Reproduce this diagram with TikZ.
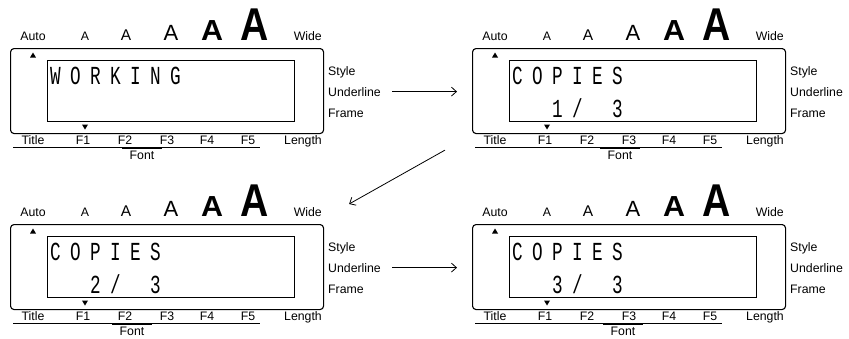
\documentclass[tikz,border=0pt]{standalone}
\usepackage{fontspec}
\setmainfont{Liberation Sans}
\newfontfamily\lcdfont[FakeStretch=0.68]{Liberation Mono}
\usetikzlibrary{arrows.meta}
\def\lcdloop#1{\ifx#1\relax\else\makebox[20pt][l]{#1}\expandafter\lcdloop\fi}
\tikzset{
  lab/.style={font=\fontsize{12.3}{13}\selectfont, inner sep=0pt},
  bigA/.style={inner sep=0pt, anchor=base},
  lcd/.style={font=\lcdfont\fontsize{26}{26}\selectfont, inner sep=0pt, anchor=base west},
  arr/.style={-{Straight Barb[length=5pt,width=9pt]}, line width=0.8pt},
  outerbox/.style={draw, line width=1.1pt, rounded corners=3.5pt, minimum width=313pt, minimum height=85pt, inner sep=0pt, anchor=north west},
  innerbox/.style={draw, line width=0.9pt, minimum width=247pt, minimum height=61pt, inner sep=0pt, anchor=north west},
}
\newcommand\lcdpanel[6]{%
\begin{scope}[shift={(#2,#3)}]
  \node[outerbox] (#1-o) at (0,0) {};
  \node[innerbox] (#1-i) at (37,12) {};
  \node[lab, anchor=base] (#1-auto) at (23,-8) {Auto};
  \node[bigA, font=\fontsize{12.3}{13}\selectfont] (#1-a1) at (75,-8) {A};
  \node[bigA, font=\fontsize{15.5}{16}\selectfont] (#1-a2) at (116,-8) {A};
  \node[bigA, font=\fontsize{22}{22}\selectfont] (#1-a3) at (161,-8) {A};
  \node[bigA, font=\bfseries\fontsize{29}{29}\selectfont] (#1-a4) at (202,-8) {\scalebox{1.05}[1]{A}};
  \node[bigA, font=\bfseries\fontsize{46}{46}\selectfont] (#1-a5) at (245,-8) {\scalebox{0.85}[1]{A}};
  \node[lab, anchor=base east] (#1-wide) at (312,-8) {Wide};
  \node[lab, anchor=base west] (#1-st) at (318,27) {Style};
  \node[lab, anchor=base west] (#1-ul) at (318,48) {Underline};
  \node[lab, anchor=base west] (#1-fr) at (318,69) {Frame};
  \node[lab, anchor=base] (#1-ti) at (23,96) {Title};
  \node[lab, anchor=base] (#1-f1) at (73,96) {F1};
  \node[lab, anchor=base] (#1-f2) at (115,96) {F2};
  \node[lab, anchor=base] (#1-f3) at (157,96) {F3};
  \node[lab, anchor=base] (#1-f4) at (197,96) {F4};
  \node[lab, anchor=base] (#1-f5) at (238,96) {F5};
  \node[lab, anchor=base east] (#1-len) at (312,96) {Length};
  \draw[line width=0.6pt] (3,99.5) -- (250,99.5);
  \draw[line width=1.8pt] (#6-20,100.3) -- (#6+20,100.3);
  \node[lab, anchor=base] (#1-font) at (#6,111) {Font};
  \fill (20,9.5) -- (26,9.5) -- (23,4.5) -- cycle;
  \fill (72,76.5) -- (78,76.5) -- (75,81.5) -- cycle;
  \node[lcd] (#1-r1) at (40,36) {\lcdloop #4\relax};
  \node[lcd] (#1-r2) at (40,69) {\lcdloop #5\relax};
\end{scope}}
\begin{document}
\begin{tikzpicture}[x=1pt,y=-1pt]
  \useasboundingbox (0,0) rectangle (849,338);
  \lcdpanel{p1}{10}{48}{WORKING}{}{132}
  \lcdpanel{p2}{472}{48}{COPIES}{~~1/~3}{148}
  \lcdpanel{p3}{10}{224}{COPIES}{~~2/~3}{122}
  \lcdpanel{p4}{472}{224}{COPIES}{~~3/~3}{151}
  \draw[arr] ([xshift=11pt]p1-ul.east) -- ([xshift=-15pt]p1-ul.east -| p2-o.west);
  \coordinate (d1) at ([xshift=-27pt,yshift=-16pt]p2-o.south west);
  \coordinate (d2) at ([xshift=25pt,yshift=20pt]p3-o.north east);
  \draw[arr] (d1) -- (d2);
  \draw[arr] ([xshift=11pt]p3-ul.east) -- ([xshift=-15pt]p3-ul.east -| p4-o.west);
\end{tikzpicture}
\end{document}
